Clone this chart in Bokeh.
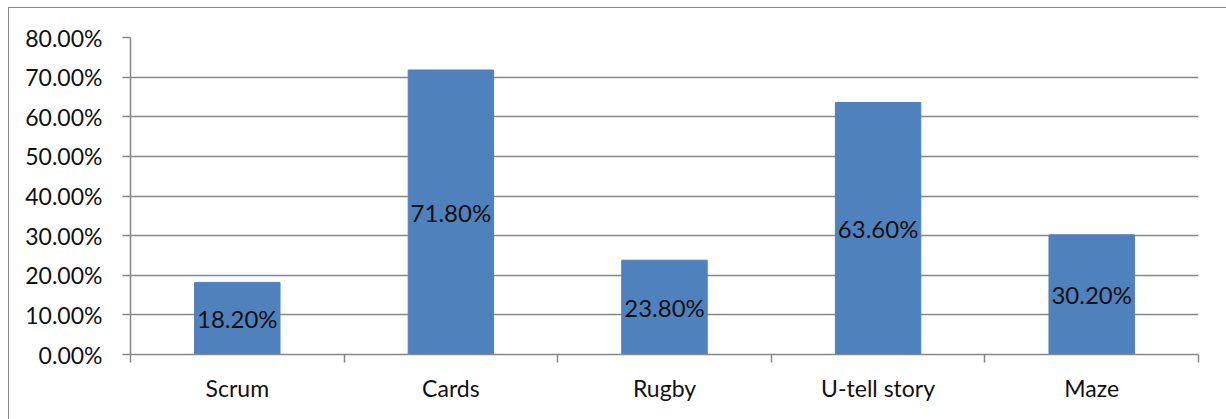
from bokeh.plotting import figure
from bokeh.models import ColumnDataSource, FixedTicker, NumeralTickFormatter, Range1d
from bokeh.core.properties import value
from bokeh.embed import file_html
from bokeh.resources import INLINE

categories = ["Scrum", "Cards", "Rugby", "U-tell story", "Maze"]
shares = [0.182, 0.718, 0.238, 0.636, 0.302]
label_texts = ["18.20%", "71.80%", "23.80%", "63.60%", "30.20%"]
y_ticks = [0.0, 0.1, 0.2, 0.3, 0.4, 0.5, 0.6, 0.7, 0.8]

xs = [i + 0.5 for i in range(len(categories))]
src = ColumnDataSource(dict(x=xs, top=shares, mid=[v / 2 for v in shares], lab=label_texts))

FONT = "Lato"
GRAY = "#878787"

p = figure(frame_width=1068, frame_height=317, output_backend="svg", toolbar_location=None,
           x_range=Range1d(0, len(categories)), y_range=Range1d(0, 0.8))
p.min_border_left = 121
p.min_border_right = 28
p.min_border_top = 29
p.min_border_bottom = 65
p.margin = (7, 0, 0, 8)
p.styles = {"border-left": "1px solid #8a8a8a", "border-top": "1px solid #8a8a8a"}
p.outline_line_color = None
p.background_fill_color = "white"
p.border_fill_color = "white"

p.vbar(x="x", top="top", width=0.4, bottom=0, source=src, fill_color="#4F81BD",
       line_color="#4F81BD")
p.text(x="x", y="mid", text="lab", source=src, text_align="center", text_baseline="middle",
       text_font=value(FONT), text_font_size="24px", text_color="#111111")

# x axis
p.xaxis.ticker = FixedTicker(ticks=xs, minor_ticks=list(range(len(categories) + 1)))
p.xaxis.major_label_overrides = {x: c for x, c in zip(xs, categories)}
p.xaxis.major_tick_line_color = None
p.xaxis.major_tick_out = 0
p.xaxis.major_tick_in = 0
p.xaxis.minor_tick_out = 8
p.xaxis.minor_tick_in = 0
p.xaxis.minor_tick_line_color = GRAY
p.xaxis.minor_tick_line_width = 1.5
p.xaxis.axis_line_color = GRAY
p.xaxis.axis_line_width = 1.5
p.xaxis.major_label_standoff = 11
p.xaxis.major_label_text_font = FONT
p.xaxis.major_label_text_font_size = "23px"
p.xaxis.major_label_text_color = "#111111"
p.xgrid.grid_line_color = None

# y axis
p.yaxis.ticker = FixedTicker(ticks=y_ticks)
p.yaxis.formatter = NumeralTickFormatter(format="0.00%")
p.yaxis.major_tick_out = 8
p.yaxis.major_tick_in = 0
p.yaxis.minor_tick_line_color = None
p.yaxis.major_tick_line_color = GRAY
p.yaxis.major_tick_line_width = 1.5
p.yaxis.axis_line_color = GRAY
p.yaxis.axis_line_width = 1.5
p.yaxis.major_label_standoff = 20
p.yaxis.major_label_text_font = FONT
p.yaxis.major_label_text_font_size = "23px"
p.yaxis.major_label_text_color = "#111111"
p.ygrid.ticker = FixedTicker(ticks=y_ticks)
p.ygrid.grid_line_color = GRAY
p.ygrid.grid_line_width = 1.5
p.ygrid.level = "underlay"

open("out.html", "w").write(file_html(p, INLINE))
